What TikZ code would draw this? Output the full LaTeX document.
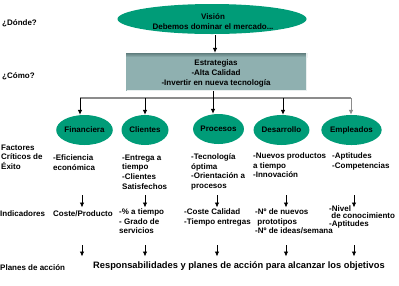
\documentclass[tikz,border=0pt]{standalone}
\usepackage{fontspec}
\setmainfont{Liberation Sans}
\usetikzlibrary{arrows.meta,shapes.geometric}
\definecolor{vgreen}{RGB}{0,156,120}
\definecolor{boxgray}{RGB}{143,176,176}
\definecolor{boxdark}{RGB}{95,125,125}
\definecolor{buscol}{RGB}{140,140,140}
\begin{document}
\begin{tikzpicture}[x=1pt,y=-1pt,
  lbl/.style={anchor=north west,inner sep=0pt,font=\bfseries\fontsize{8}{9.7}\selectfont,align=left},
  cen/.style={inner sep=0pt,font=\bfseries\fontsize{8}{10}\selectfont,align=center},
  oval/.style={ellipse,fill=vgreen,inner sep=0pt,minimum width=47pt,minimum height=30pt,font=\bfseries\fontsize{8}{10}\selectfont},
  arr/.style={-{Latex[length=5pt,width=4.5pt]},line width=0.8pt},
  busline/.style={draw=buscol,line width=1.2pt},
]
\useasboundingbox (0,0) rectangle (399,285);
% left labels
\node[lbl,anchor=west] (qdonde) at (2,23) {¿Dónde?};
\node[lbl,anchor=west] (qcomo) at (2,76) {¿Cómo?};
\node[lbl] (qfact) at (1,144.5) {Factores\\Críticos de\\Éxito};
\node[lbl,anchor=west] (qind) at (0,214) {Indicadores};
\node[lbl,anchor=west] (qplan) at (0,267.5) {Planes de acción};
% vision
\node[ellipse,fill=vgreen,minimum width=189pt,minimum height=30pt,inner sep=0pt] (vision) at (212,19) {};
\node[cen] (vtext) at (213,22) {Visión\\Debemos dominar el mercado...};
% strategies box
\fill[boxgray] (126,53) rectangle (307,91);
\shade[top color=boxdark,bottom color=boxgray] (126,53) rectangle (307,57);
\draw[white!80!boxgray,line width=0.8pt] (126.5,90.6) -- (306.6,90.6) -- (306.6,53);
\node[inner sep=0pt,minimum width=181pt,minimum height=38pt] (strat) at (216.5,72) {};
\node[cen] (stext) at (216,73) {Estrategias\\-Alta Calidad\\-Invertir en nueva tecnología};
% connectors vision -> box
\coordinate (vbot) at (215,35);
\draw[arr] (vbot) -- (vbot |- strat.north);
% bus
\coordinate (bstart) at (213,91);
\coordinate (bus) at (213,98);
\coordinate (b1) at (80,98);
\coordinate (b2) at (145,98);
\coordinate (b3) at (213,98);
\coordinate (b4) at (283,98);
\coordinate (b5) at (351,98);
\draw[busline] (b1) -- (b5);
\draw[line width=0.8pt] (bstart) -- (bus);
% factor ellipses
\node[oval,minimum width=53pt] (fin) at (84.5,130) {Financiera};
\node[oval] (cli) at (145,130) {Clientes};
\node[oval] (pro) at (218.5,129) {Procesos};
\node[oval] (des) at (281.5,130) {Desarrollo};
\node[oval] (emp) at (351.5,130) {Empleados};
\draw[arr] (b1) -- (b1 |- fin.north);
\draw[arr] (b2) -- (b2 |- cli.north);
\draw[arr] (b3) -- (b3 |- pro.north);
\draw[arr] (b4) -- (b4 |- des.north);
\draw[arr,draw=buscol] (b5) -- (b5 |- emp.north);
% factors
\node[lbl] (finF) at (53,154.5) {-Eficiencia\\económica};
\node[lbl] (cliF) at (122,154.5) {-Entrega a\\tiempo\\-Clientes\\Satisfechos};
\node[lbl] (proF) at (191,153.5) {-Tecnología\\óptima\\-Orientación a\\procesos};
\node[lbl] (desF) at (253,152.5) {-Nuevos productos\\a tiempo\\-Innovación};
\node[lbl] (empF) at (332,152.5) {-Aptitudes\\-Competencias};
% arrows row 1
\foreach \n/\x in {1/82,2/145,3/217,4/286,5/354}{
  \coordinate (p\n) at (\x,195);
  \coordinate (q\n) at (\x,207.5);
  \draw[arr] (p\n) -- (q\n);
}
% indicators
\node[lbl,anchor=west] (finI) at (53,214) {Coste/Producto};
\node[lbl] (cliI) at (119,208.5) {-\% a tiempo\\- Grado de\\servicios};
\node[lbl] (proI) at (184,208.5) {-Coste Calidad\\-Tiempo entregas};
\node[lbl] (desI) at (255,208.5) {-Nº de nuevos\\\ prototipos\\-Nº de ideas/semana};
\node[lbl,font=\bfseries\fontsize{8}{7.8}\selectfont] (empI) at (329,205) {-Nivel\\\ de conocimiento\\-Aptitudes};
% arrows row 2
\foreach \n/\x in {1/82,2/145,3/217,4/286,5/354}{
  \coordinate (r\n) at (\x,245);
  \coordinate (s\n) at (\x,256.5);
  \draw[arr] (r\n) -- (s\n);
}
\node[inner sep=0pt,anchor=west,font=\bfseries\fontsize{9.3}{10}\selectfont] (resp) at (93,266) {Responsabilidades y planes de acción para alcanzar los objetivos};
\end{tikzpicture}
\end{document}
